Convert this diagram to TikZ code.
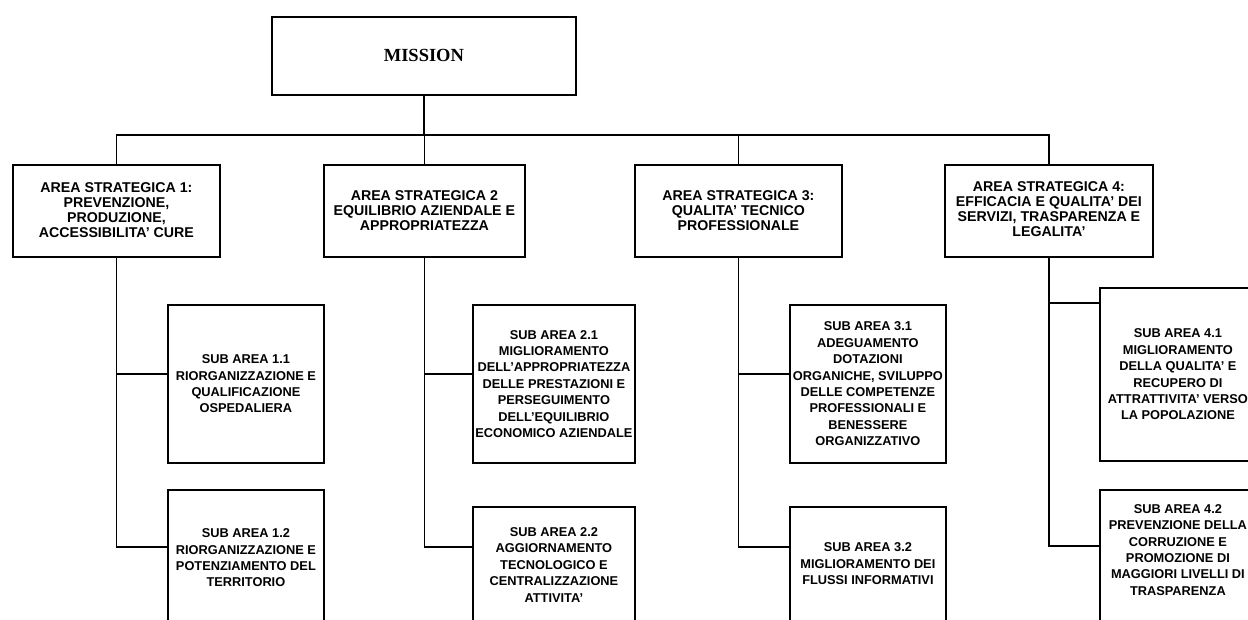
\documentclass[tikz,border=0pt]{standalone}
\usepackage{fontspec}
\setmainfont{Liberation Sans}
\newfontfamily\serifb{Liberation Serif}
\usetikzlibrary{calc}
% #1 box width, #2 box height, #3 text area width, #4 text area height (text area starts at top left), #5 text
\newcommand\bx[5]{\parbox[c][#2][t]{#1}{\parbox[c][#4][c]{#3}{\centering#5\par}}}
\newcommand\af{\bfseries\fontsize{14.2pt}{15pt}\selectfont}
\newcommand\sbf{\bfseries\fontsize{12.8pt}{16.4pt}\selectfont}
\newcommand\mfont{\serifb\bfseries\fontsize{18.5pt}{21pt}\selectfont}
\tikzset{
  box/.style={draw, line width=1.8pt, inner sep=0pt, anchor=north west},
  ln/.style={line width=1.8pt}
}
\begin{document}
\begin{tikzpicture}[x=1pt,y=-1pt]
\useasboundingbox (0,0) rectangle (1248,620);
\fill[white] (0,0) rectangle (1248,620);
% mission
\node[box] (m) at (271,16) {\bx{304pt}{78pt}{304pt}{78pt}{\mfont MISSION}};
% strategic areas
\node[box] (a1) at (12,164) {\bx{207pt}{92pt}{207pt}{90pt}{\af AREA STRATEGICA 1:\\PREVENZIONE,\\PRODUZIONE,\\ACCESSIBILITA' CURE}};
\node[box] (a2) at (323,164) {\bx{201pt}{92pt}{201pt}{92pt}{\af AREA STRATEGICA 2\\EQUILIBRIO AZIENDALE E\\APPROPRIATEZZA}};
\node[box] (a3) at (634,164) {\bx{207pt}{92pt}{207pt}{92pt}{\af AREA STRATEGICA 3:\\QUALITA' TECNICO\\PROFESSIONALE}};
\node[box] (a4) at (944,164) {\bx{208pt}{92pt}{208pt}{88pt}{\af AREA STRATEGICA 4:\\EFFICACIA E QUALITA' DEI\\SERVIZI, TRASPARENZA E\\LEGALITA'}};
% sub areas
\node[box] (s11) at (167,304) {\bx{156pt}{158pt}{156pt}{158pt}{\sbf SUB AREA 1.1\\RIORGANIZZAZIONE E\\QUALIFICAZIONE\\OSPEDALIERA}};
\node[box] (s12) at (167,489) {\bx{156pt}{160pt}{156pt}{136pt}{\sbf SUB AREA 1.2\\RIORGANIZZAZIONE E\\POTENZIAMENTO DEL\\TERRITORIO}};
\node[box] (s21) at (472,304) {\bx{162pt}{158pt}{162pt}{158pt}{\sbf SUB AREA 2.1\\MIGLIORAMENTO\\DELL'APPROPRIATEZZA\\DELLE PRESTAZIONI E\\PERSEGUIMENTO\\DELL'EQUILIBRIO\\ECONOMICO AZIENDALE}};
\node[box] (s22) at (472,506) {\bx{162pt}{150pt}{162pt}{116pt}{\sbf SUB AREA 2.2\\AGGIORNAMENTO\\TECNOLOGICO E\\CENTRALIZZAZIONE\\ATTIVITA'}};
\node[box] (s31) at (789,304) {\bx{156pt}{158pt}{156pt}{158pt}{\sbf SUB AREA 3.1\\ADEGUAMENTO\\DOTAZIONI\\ORGANICHE, SVILUPPO\\DELLE COMPETENZE\\PROFESSIONALI E\\BENESSERE\\ORGANIZZATIVO}};
\node[box] (s32) at (789,506) {\bx{156pt}{150pt}{156pt}{114pt}{\sbf SUB AREA 3.2\\MIGLIORAMENTO DEI\\FLUSSI INFORMATIVI}};
\node[box] (s41) at (1099,287) {\bx{156pt}{173pt}{156pt}{173pt}{\sbf SUB AREA 4.1\\MIGLIORAMENTO\\DELLA QUALITA' E\\RECUPERO DI\\ATTRATTIVITA' VERSO\\LA POPOLAZIONE}};
\node[box] (s42) at (1099,489) {\bx{156pt}{170pt}{156pt}{120pt}{\sbf SUB AREA 4.2\\PREVENZIONE DELLA\\CORRUZIONE E\\PROMOZIONE DI\\MAGGIORI LIVELLI DI\\TRASPARENZA}};
% bus
\coordinate (bus) at (0,135);
\draw[ln] (m.south) -- (m.south |- bus);
\draw[ln] (a1.north) -- (a1.north |- bus) -- (a4.north |- bus) -- (a4.north);
\draw[ln] (a2.north) -- (a2.north |- bus);
\draw[ln] (a3.north) -- (a3.north |- bus);
% area to sub area connectors
\draw[ln] (a1.south) |- ([yshift=-70pt]s11.north west);
\draw[ln] (a1.south) |- ([yshift=-58pt]s12.north west);
\draw[ln] (a2.south) |- ([yshift=-70pt]s21.north west);
\draw[ln] (a2.south) |- ([yshift=-41pt]s22.north west);
\draw[ln] (a3.south) |- ([yshift=-70pt]s31.north west);
\draw[ln] (a3.south) |- ([yshift=-41pt]s32.north west);
\draw[ln] (a4.south) |- ([yshift=-16pt]s41.north west);
\draw[ln] (a4.south) |- ([yshift=-57pt]s42.north west);
\end{tikzpicture}
\end{document}
